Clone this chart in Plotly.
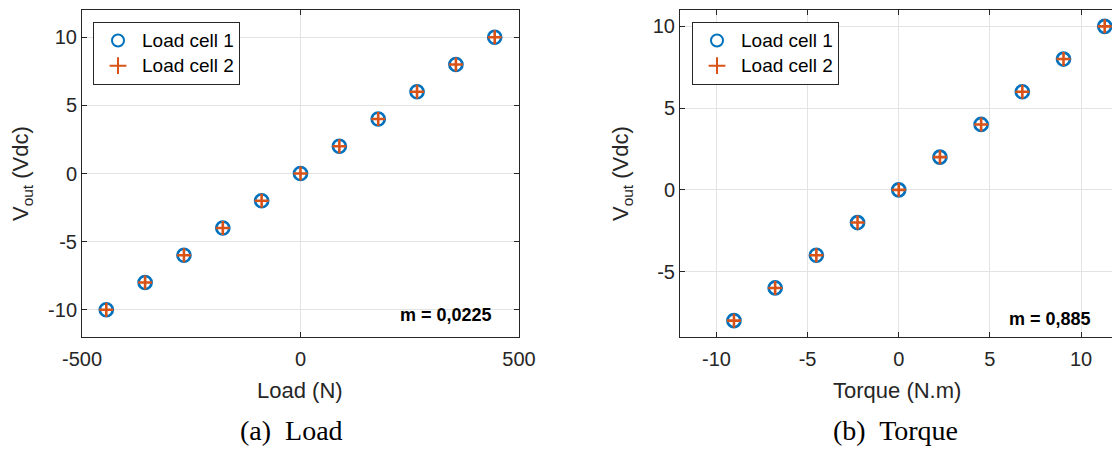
import plotly.graph_objects as go

# ---- data ----
load_n = [-444.4, -355.6, -266.7, -177.8, -88.9, 0, 88.9, 177.8, 266.7, 355.6, 444.4]
vout_load_cell1 = [-10, -8, -6, -4, -2, 0, 2, 4, 6, 8, 10]
vout_load_cell2 = [-10, -8, -6, -4, -2, 0, 2, 4, 6, 8, 10]

torque_nm = [-9.04, -6.78, -4.52, -2.26, 0, 2.26, 4.52, 6.78, 9.04, 11.3]
vout_torque_cell1 = [-8, -6, -4, -2, 0, 2, 4, 6, 8, 10]
vout_torque_cell2 = [-8, -6, -4, -2, 0, 2, 4, 6, 8, 10]

series_names = ["Load cell 1", "Load cell 2"]
load_ticks = [-500, 0, 500]
load_tick_labels = ["-500", "0", "500"]
torque_ticks = [-10, -5, 0, 5, 10]
torque_tick_labels = ["-10", "-5", "0", "5", "10"]
vout_ticks_a = [-10, -5, 0, 5, 10]
vout_tick_labels_a = ["-10", "-5", "0", "5", "10"]
vout_ticks_b = [-5, 0, 5, 10]
vout_tick_labels_b = ["-5", "0", "5", "10"]
slope_a = "m = 0,0225"
slope_b = "m = 0,885"

W, H = 1112, 451
TOP, BOT = 10, 337
PH = BOT - TOP

def px(x):
    return x / W

def py(y):
    return (BOT - y) / PH

BLUE = "#0072BD"
ORANGE = "#D95319"
AX = "#262626"
GRID = "#e3e3e3"
SANS = "Liberation Sans, Arial, Helvetica, sans-serif"
SERIF = "Liberation Serif, Times New Roman, serif"

fig = go.Figure()

def legend_label(name):
    return '<span style="font-size:19px">' + name + "</span>"

def add_pair(x, y1, y2, xa, ya, leg):
    fig.add_trace(go.Scatter(
        x=x, y=y1, mode="markers", name=legend_label(series_names[0]), xaxis=xa, yaxis=ya, legend=leg,
        marker=dict(symbol="circle-open", size=13, color=BLUE, line=dict(width=2.7, color=BLUE))))
    fig.add_trace(go.Scatter(
        x=x, y=y2, mode="markers", name=legend_label(series_names[1]), xaxis=xa, yaxis=ya, legend=leg,
        marker=dict(symbol="cross-thin-open", size=10, color=ORANGE, line=dict(width=2.6, color=ORANGE))))

add_pair(load_n, vout_load_cell1, vout_load_cell2, "x", "y", "legend")
add_pair(torque_nm, vout_torque_cell1, vout_torque_cell2, "x2", "y2", "legend2")

axis_common = dict(
    showline=True, linecolor=AX, linewidth=1, ticks="inside", ticklen=5, tickcolor=AX,
    showgrid=True, gridcolor=GRID, gridwidth=1, zeroline=False, automargin=False,
    tickfont=dict(family=SANS, size=20, color=AX), tickmode="array",
)

legend_common = dict(
    bgcolor="white", bordercolor=AX, borderwidth=1, yanchor="top", xanchor="left",
    font=dict(family=SANS, size=17, color="black"), tracegroupgap=0,
    itemsizing="constant", itemwidth=38,
)

fig.update_layout(
    width=W, height=H, margin=dict(l=0, r=0, t=TOP, b=H - BOT, autoexpand=False),
    paper_bgcolor="white", plot_bgcolor="white", showlegend=True,
    xaxis=dict(domain=[px(82), px(519)], range=[-500, 500], tickvals=load_ticks,
               ticktext=load_tick_labels, anchor="y", mirror="ticks", ticklabelstandoff=4,
               **axis_common),
    yaxis=dict(domain=[0, 1], range=[-12, 12], tickvals=vout_ticks_a,
               ticktext=vout_tick_labels_a, anchor="x", mirror="ticks", **axis_common),
    xaxis2=dict(domain=[px(680), 1.0], range=[-12, 11.7], tickvals=torque_ticks,
                ticktext=torque_tick_labels, anchor="y2", mirror="ticks", ticklabelstandoff=4,
                **axis_common),
    yaxis2=dict(domain=[0, 1], range=[-9, 11], tickvals=vout_ticks_b,
                ticktext=vout_tick_labels_b, anchor="x2", mirror=False, **axis_common),
    legend=dict(x=px(93), y=py(22), **legend_common),
    legend2=dict(x=px(692), y=py(22), **legend_common),
)

ann = []
# y titles
for xc in (22, 622):
    ann.append(dict(x=px(xc), y=py(174), xref="paper", yref="paper", text="V<sub>out</sub> (Vdc)",
                    textangle=-90, showarrow=False, xanchor="center", yanchor="middle",
                    font=dict(family=SANS, size=22, color=AX)))
# x titles
ann.append(dict(x=px(300), y=py(390), xref="paper", yref="paper", text="Load (N)", showarrow=False,
                xanchor="center", yanchor="middle", font=dict(family=SANS, size=22, color=AX)))
ann.append(dict(x=px(897), y=py(390), xref="paper", yref="paper", text="Torque (N.m)", showarrow=False,
                xanchor="center", yanchor="middle", font=dict(family=SANS, size=22, color=AX)))
# captions
ann.append(dict(x=px(291), y=py(430), xref="paper", yref="paper", text="(a)\u00a0 Load", showarrow=False,
                xanchor="center", yanchor="middle", font=dict(family=SERIF, size=28, color="black")))
ann.append(dict(x=px(895), y=py(430), xref="paper", yref="paper", text="(b)\u00a0 Torque", showarrow=False,
                xanchor="center", yanchor="middle", font=dict(family=SERIF, size=28, color="black")))
# slope texts
ann.append(dict(x=px(494), y=py(315), xref="paper", yref="paper", text="<b>" + slope_a + "</b>",
                showarrow=False, xanchor="right", yanchor="middle",
                font=dict(family=SANS, size=18, color="black")))
ann.append(dict(x=px(1093), y=py(319), xref="paper", yref="paper", text="<b>" + slope_b + "</b>",
                showarrow=False, xanchor="right", yanchor="middle",
                font=dict(family=SANS, size=18, color="black")))
fig.update_layout(annotations=ann)

fig.write_html(
    "out.html",
    config={"displayModeBar": False},
    post_script="document.body.style.margin='0';document.body.style.overflow='hidden';",
)
